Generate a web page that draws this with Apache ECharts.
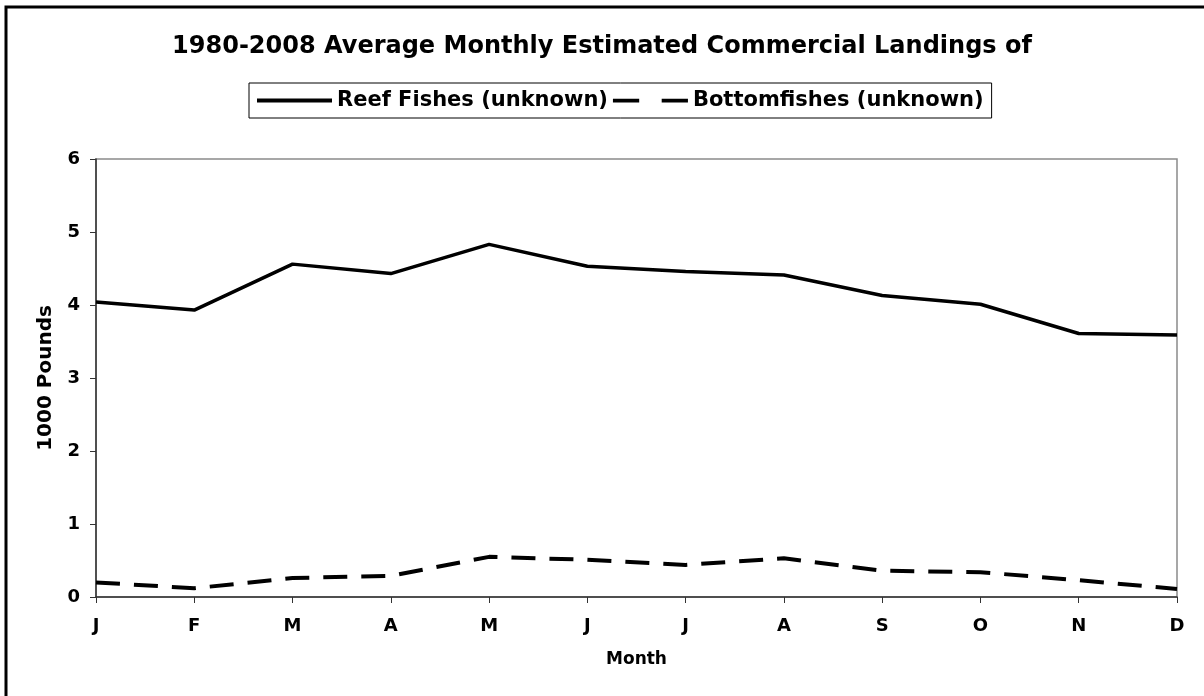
<!DOCTYPE html>
<html>
<head>
<meta charset="utf-8">
<script src="https://cdn.jsdelivr.net/npm/echarts@6/dist/echarts.min.js"></script>
<style>
  html, body { margin: 0; padding: 0; background: #fff; }
  #chart { width: 1204px; height: 696px; }
</style>
</head>
<body>
<div id="chart"></div>
<script>
// monthly averages, 1000 pounds
var months = ['J', 'F', 'M', 'A', 'M', 'J', 'J', 'A', 'S', 'O', 'N', 'D'];
var reefFishes = [4.04, 3.93, 4.56, 4.43, 4.83, 4.53, 4.46, 4.41, 4.13, 4.01, 3.61, 3.59];
var bottomFishes = [0.20, 0.12, 0.26, 0.29, 0.55, 0.51, 0.44, 0.53, 0.36, 0.34, 0.23, 0.11];
var yTicks = [0, 1, 2, 3, 4, 5, 6];

var font = 'DejaVu Sans';
var chart = echarts.init(document.getElementById('chart'));

// legend samples: solid bar and two dashes
var solidIcon = 'path://M0,0H75V4H0Z';
var dashIcon = 'path://M0,0H28V4H0Z M52,0H80V4H52Z';

var option = {
    backgroundColor: '#fff',
    animation: false,
    title: {
        text: '1980-2008 Average Monthly Estimated Commercial Landings of',
        left: 'center',
        top: 30,
        textStyle: { fontFamily: font, fontWeight: 'bold', fontSize: 24, color: '#000' }
    },
    legend: {
        data: [
            { name: 'Reef Fishes (unknown)', icon: solidIcon, itemStyle: { color: '#000' } },
            { name: 'Bottomfishes (unknown)', icon: dashIcon, itemStyle: { color: '#000' } }
        ],
        left: 249,
        top: 83,
        itemWidth: 75,
        itemHeight: 14,
        itemGap: 5,
        padding: [7, 8],
        borderColor: '#000',
        borderWidth: 1,
        textStyle: { fontFamily: font, fontWeight: 'bold', fontSize: 21, color: '#000' }
    },
    grid: {
        left: 96,
        right: 27,
        top: 159,
        bottom: 99,
        show: true,
        borderColor: '#8a8a8a',
        borderWidth: 1.5
    },
    xAxis: {
        type: 'category',
        data: months,
        boundaryGap: false,
        name: 'Month',
        nameLocation: 'middle',
        nameGap: 54,
        nameTextStyle: { fontFamily: font, fontWeight: 'bold', fontSize: 17, color: '#000' },
        axisLine: { lineStyle: { color: '#333', width: 1.5 } },
        axisTick: { alignWithLabel: true, length: 6, lineStyle: { color: '#333' } },
        axisLabel: { fontFamily: font, fontWeight: 'bold', fontSize: 18, color: '#000', margin: 20 }
    },
    yAxis: {
        type: 'value',
        min: yTicks[0],
        max: yTicks[yTicks.length - 1],
        interval: 1,
        name: '1000 Pounds',
        nameLocation: 'middle',
        nameGap: 40,
        nameTextStyle: { fontFamily: font, fontWeight: 'bold', fontSize: 20, color: '#000' },
        axisLine: { show: true, lineStyle: { color: '#333', width: 1.5 } },
        axisTick: { show: true, length: 6, lineStyle: { color: '#333' } },
        splitLine: { show: false },
        axisLabel: { fontFamily: font, fontWeight: 'bold', fontSize: 18, color: '#000', margin: 16 }
    },
    series: [{
        name: 'Reef Fishes (unknown)',
        type: 'line',
        data: reefFishes,
        symbol: 'none',
        lineStyle: { color: '#000', width: 3.5 },
        itemStyle: { color: '#000' }
    }, {
        name: 'Bottomfishes (unknown)',
        type: 'line',
        data: bottomFishes,
        symbol: 'none',
        lineStyle: { color: '#000', width: 4, type: [24, 14] },
        itemStyle: { color: '#000' }
    }],
    graphic: [{
        type: 'rect',
        shape: { x: 6, y: 7, width: 1300, height: 800 },
        style: { fill: null, stroke: '#000', lineWidth: 3 },
        silent: true
    }]
};

chart.setOption(option);
</script>
</body>
</html>
